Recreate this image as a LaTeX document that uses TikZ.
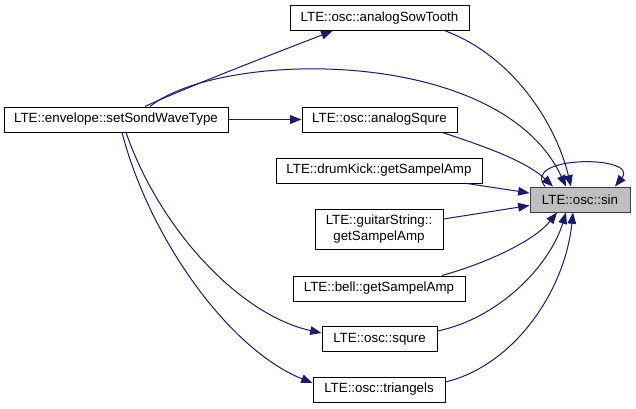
\documentclass[tikz,border=0pt]{standalone}
\usepackage{fontspec}
\setmainfont{Liberation Sans}
\usetikzlibrary{calc, arrows.meta}
\definecolor{edgeblue}{HTML}{191970}
\definecolor{rootgray}{HTML}{BFBFBF}
\definecolor{rootline}{HTML}{404040}

\begin{document}
\begin{tikzpicture}[
    x=0.75pt, y=-0.75pt,
    fn/.style={draw=black, fill=white, line width=0.75pt, inner sep=0pt,
        font=\fontsize{10}{12}\selectfont, minimum height=18.75pt},
    root/.style={fn, fill=rootgray, draw=rootline},
    call/.style={edgeblue, line width=0.75pt, -{Triangle[length=8.5pt, width=6.5pt]}}
]

% 0. Canvas (pixel grid of the graph)
\useasboundingbox (0,0) rectangle (636,408);

% 1. Function boxes
\node[fn, minimum width=168pt] (setWave) at (116,119.5) {LTE::envelope::setSondWaveType};
\node[fn, minimum width=134.25pt] (sowTooth) at (379.5,18) {LTE::osc::analogSowTooth};
\node[fn, minimum width=116.25pt] (analogSq) at (379.5,119.5) {LTE::osc::analogSqure};
\node[fn, minimum width=154.5pt] (drumKick) at (379,170.5) {LTE::drumKick::getSampelAmp};
\node[fn, minimum width=96pt, minimum height=30pt, align=center] (guitar) at (379,229) {LTE::guitarString::\\getSampelAmp};
\node[fn, minimum width=129pt] (bellFn) at (379,288.5) {LTE::bell::getSampelAmp};
\node[fn, minimum width=86.25pt] (squre) at (379.5,339) {LTE::osc::squre};
\node[fn, minimum width=99pt] (triang) at (379,389.5) {LTE::osc::triangels};

% 2. Called function
\node[root, minimum width=75pt] (sinFn) at (580,199.5) {LTE::osc::sin};

% 3. Calls out of setSondWaveType
\draw[call] ($(setWave.north)+(29,0)$) .. controls (180,90) and (270,55) .. ($(sowTooth.south)+(-47,0)$);
\draw[call] ($(setWave.north)+(34,0)$) .. controls (220,50) and (500,45) .. ($(sinFn.north)+(-14,0)$);
\draw[call] (setWave.east) -- (analogSq.west);
\draw[call] ($(setWave.south)+(10,0)$) .. controls (160,230) and (240,315) .. ($(squre.west)+(0,-6)$);
\draw[call] ($(setWave.south)+(6,0)$) .. controls (150,240) and (230,350) .. ($(triang.west)+(0,-6.5)$);

% 4. Calls into sin
\draw[call] ($(sowTooth.south)+(66,0)$) .. controls (510,55) and (555,120) .. ($(sinFn.north)+(-9,0)$);
\draw[call] ($(analogSq.south)+(63,0)$) .. controls (480,145) and (525,160) .. ($(sinFn.north)+(-27,0)$);
\draw[call] ($(drumKick.south)+(88,0)$) -- ($(sinFn.west)+(0,-6.5)$);
\draw[call] ($(guitar.east)+(0,-10)$) -- ($(sinFn.west)+(0,6)$);
\draw[call] ($(bellFn.north)+(63,0)$) .. controls (490,262) and (535,240) .. ($(sinFn.south)+(-23,0)$);
\draw[call] ($(squre.east)+(0,-8)$) .. controls (500,318) and (550,265) .. ($(sinFn.south)+(-14,0)$);
\draw[call] ($(triang.east)+(0,-7.5)$) .. controls (515,365) and (565,290) .. ($(sinFn.south)+(-7,0)$);

% 5. Recursion
\draw[call] ($(sinFn.north)+(-35,0)$) .. controls (520,155) and (640,155) .. ($(sinFn.north)+(35,0)$);

\end{tikzpicture}
\end{document}
